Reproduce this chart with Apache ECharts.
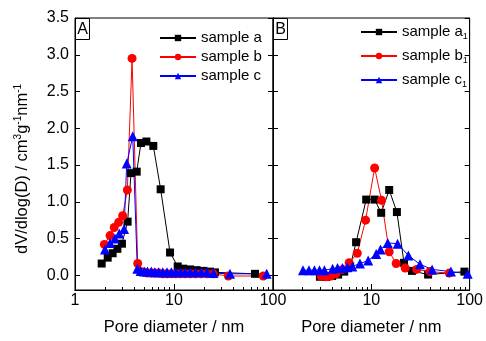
<!DOCTYPE html>
<html>
<head>
<meta charset="utf-8">
<script src="https://cdn.jsdelivr.net/npm/echarts@6/dist/echarts.min.js"></script>
<style>html,body{margin:0;padding:0;background:#fff}#c{width:486px;height:341px}</style>
</head>
<body>
<div id="c"></div>
<script>
// ---- Panel A data ----
var aX = [1.86,2.14,2.40,2.68,2.98,3.40,3.68,4.2,4.64,5.26,6.18,7.33,9.12,10.9,12.4,14.5,16.9,19.8,23.1,25.9,65.8];
var aY = [0.16,0.24,0.30,0.36,0.43,0.73,1.39,1.41,1.80,1.82,1.76,1.17,0.31,0.12,0.09,0.08,0.07,0.06,0.05,0.04,0.02];
var bX = [1.98,2.26,2.49,2.76,3.03,3.38,3.77,4.3,4.6,5.0,5.4,5.9,6.4,7.0,7.7,8.5,9.4,10.4,11.6,13.0,14.6,16.5,18.8,21.5,25.0,35.4,79.8];
var bY = [0.42,0.54,0.65,0.72,0.81,1.16,2.95,0.16,0.05,0.04,0.03,0.03,0.03,0.03,0.02,0.02,0.02,0.02,0.02,0.02,0.02,0.02,0.02,0.02,0.02,-0.01,-0.01];
var cX = [2.01,2.26,2.53,2.80,3.13,3.33,3.83,4.26,4.6,5.0,5.4,5.9,6.4,7.0,7.7,8.5,9.4,10.4,11.6,13.0,14.6,16.5,18.8,21.5,25.0,36.8,86.3];
var cY = [0.35,0.44,0.50,0.57,0.63,1.52,1.89,0.09,0.06,0.05,0.05,0.05,0.04,0.04,0.04,0.04,0.04,0.04,0.04,0.04,0.04,0.04,0.04,0.04,0.03,0.02,0.02];
// ---- Panel B data ----
var a1X = [3.0,3.5,4.0,4.6,5.3,6.1,7.0,8.87,10.8,12.6,15.2,18.2,21.5,25.9,37.8,88.5];
var a1Y = [-0.02,-0.02,-0.01,0.01,0.05,0.12,0.45,1.03,1.03,0.85,1.16,0.86,0.17,0.06,0.01,0.05];
var b1X = [3.1,3.46,3.88,4.36,5.1,5.95,7.2,8.74,10.8,12.7,15.2,17.9,22.1,28.9,39.3,62.0];
var b1Y = [-0.01,-0.02,-0.01,0.02,0.08,0.17,0.30,0.75,1.46,1.02,0.32,0.16,0.10,0.08,0.05,0.03];
var c1X = [2.02,2.32,2.64,2.97,3.33,4.04,4.53,5.09,5.71,6.41,7.66,9.29,11.2,12.4,14.7,18.5,23.8,31.2,41.5,64.5,95.5];
var c1Y = [0.07,0.07,0.07,0.07,0.07,0.09,0.10,0.10,0.11,0.12,0.16,0.20,0.29,0.35,0.44,0.43,0.27,0.15,0.08,0.05,0.02];
// ---- ticks ----
var yTicks = [0,0.5,1.0,1.5,2.0,2.5,3.0,3.5];
var xMinor = [2,3,4,5,6,7,8,9,20,30,40,50,60,70,80,90];
var namesA = ['sample a','sample b','sample c'];
var namesB = ['sample a1','sample b1','sample c1'];

function pairs(xs, ys){ return xs.map(function(x,i){ return [x, ys[i]]; }); }

var FONT = 'Liberation Sans, Arial, sans-serif';
var chart = echarts.init(document.getElementById('c'), null, {renderer:'canvas'});

var LINE = {show:true, onZero:false, lineStyle:{color:'#000', width:1}};

function xMain(grid, hideMin){
  return {type:'log', logBase:10, gridIndex:grid, min:1, max:100, position:'bottom',
    axisLine:LINE, splitLine:{show:false},
    axisTick:{show:true, inside:true, length:6, lineStyle:{color:'#000'}},
    axisLabel:{color:'#000', fontSize:16, fontFamily:FONT, margin:3, showMinLabel: !hideMin},
    name:'Pore diameter / nm', nameLocation:'middle', nameGap:29,
    nameTextStyle:{color:'#000', fontSize:16.5, fontFamily:FONT}};
}
function xMinorAx(grid){
  return {type:'log', logBase:10, gridIndex:grid, min:1, max:100, position:'bottom', offset:0,
    axisLine:LINE, splitLine:{show:false}, axisLabel:{show:false},
    axisTick:{show:true, inside:true, length:3, customValues:xMinor, lineStyle:{color:'#000'}}};
}
function yAx(grid, pos, labels){
  return {type:'value', gridIndex:grid, min:-0.2, max:3.5, position:pos, offset:0,
    axisLine:LINE, splitLine:{show:false},
    axisTick:{show:true, inside:true, length:5, customValues:yTicks, lineStyle:{color:'#000'}},
    axisLabel:{show:labels, customValues:yTicks, color:'#000', fontSize:16, fontFamily:FONT, margin:6,
      formatter:function(v){ return Number(v).toFixed(1); }}};
}
function ser(name, data, color, symbol, size, xi){
  return {name:name, type:'line', data:data, xAxisIndex:xi, yAxisIndex:xi,
    symbol:symbol, symbolSize:size, showAllSymbol:true, animation:false,
    lineStyle:{color:color, width:1}, itemStyle:{color:color}};
}

var option = {
  animation:false,
  grid:[
    {left:75, top:18, width:198, height:278, show:true, borderColor:'#000', borderWidth:1, backgroundColor:'transparent'},
    {left:273, top:18, width:199, height:278, show:true, borderColor:'#000', borderWidth:1, backgroundColor:'transparent'}
  ],
  xAxis:[xMain(0,false), xMinorAx(0), xMain(1,true), xMinorAx(1)],
  yAxis:[yAx(0,'left',true), yAx(0,'right',false), yAx(1,'left',false), yAx(1,'right',false)],
  legend:[
    {data:namesA, orient:'vertical', left:159, top:30, padding:0, itemWidth:36, itemHeight:8, itemGap:3,
      textStyle:{color:'#000', fontSize:15, fontFamily:FONT, lineHeight:16}},
    {data:namesB, orient:'vertical', left:360, top:23, padding:0, itemWidth:36, itemHeight:8, itemGap:6,
      formatter:function(n){ return n.slice(0,-1) + '{sub|' + n.slice(-1) + '}'; },
      textStyle:{color:'#000', fontSize:15, fontFamily:FONT, lineHeight:18,
        rich:{sub:{fontSize:9, fontFamily:FONT, color:'#000', verticalAlign:'bottom', lineHeight:10}}}}
  ],
  graphic:[
    {type:'rect', shape:{x:75.5, y:18.5, width:14, height:21}, style:{fill:'#fff', stroke:'#000', lineWidth:1}, z:100},
    {type:'text', x:82.5, y:29.5, style:{text:'A', font:'16px '+FONT, fill:'#000', align:'center', verticalAlign:'middle'}, z:101},
    {type:'rect', shape:{x:273.5, y:18.5, width:14, height:21}, style:{fill:'#fff', stroke:'#000', lineWidth:1}, z:100},
    {type:'text', x:280.5, y:29.5, style:{text:'B', font:'16px '+FONT, fill:'#000', align:'center', verticalAlign:'middle'}, z:101},
    {type:'text', x:22, y:169, rotation:Math.PI/2,
      style:{text:'dV/dlog(D) / cm{sup|3}g{sup|-1}nm{sup|-1}', font:'16.5px '+FONT, fill:'#000',
        align:'center', verticalAlign:'middle',
        rich:{sup:{fontSize:10, fontFamily:FONT, fill:'#000', verticalAlign:'top', lineHeight:10}}}}
  ],
  series:[
    ser('sample a', pairs(aX,aY), '#000000', 'rect', 8, 0),
    ser('sample b', pairs(bX,bY), '#ff0000', 'circle', 9, 0),
    ser('sample c', pairs(cX,cY), '#0000ff', 'triangle', 10, 0),
    ser('sample a1', pairs(a1X,a1Y), '#000000', 'rect', 8, 2),
    ser('sample b1', pairs(b1X,b1Y), '#ff0000', 'circle', 9, 2),
    ser('sample c1', pairs(c1X,c1Y), '#0000ff', 'triangle', 10, 2)
  ]
};
chart.setOption(option);
</script>
</body>
</html>
